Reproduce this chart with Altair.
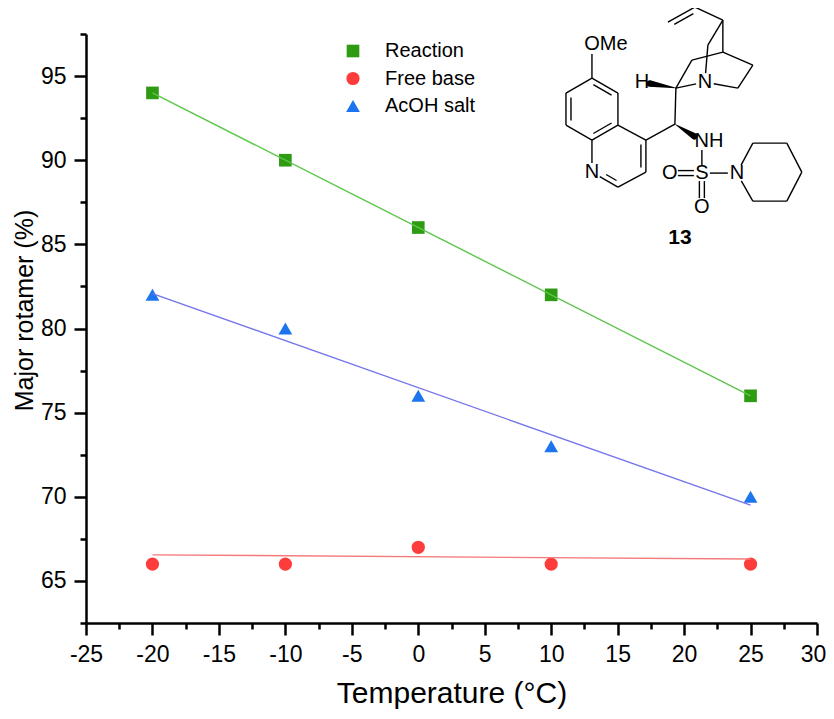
import altair as alt
import pandas as pd

# ---------------- data ----------------
series = ["Reaction", "Free base", "AcOH salt"]
temps = [-20, -10, 0, 10, 25]
reaction = [94, 90, 86, 82, 76]
free_base = [66, 66, 67, 66, 66]
acoh_salt = [82, 80, 76, 73, 70]

# linear fit lines (end points)
fit_temps = [-20, 25]
fit_reaction = [94.0, 76.0]
fit_free_base = [66.55, 66.3]
fit_acoh_salt = [82.07, 69.5]

x_ticks = [-25, -22.5, -20, -17.5, -15, -12.5, -10, -7.5, -5, -2.5, 0, 2.5, 5,
           7.5, 10, 12.5, 15, 17.5, 20, 22.5, 25, 27.5, 30]
y_ticks = [62.5, 65, 67.5, 70, 72.5, 75, 77.5, 80, 82.5, 85, 87.5, 90, 92.5, 95, 97.5]

# ---------------- styles ----------------
point_colors = ["#2E9B12", "#FF3C3C", "#1C74EE"]
line_colors = ["#5CC64A", "#F47A7A", "#7474EC"]
shapes = ["square", "circle", "triangle-up"]
sizes = [160, 190, 230]
FONT = "Liberation Sans"

values = [reaction, free_base, acoh_salt]
pts = pd.DataFrame([
    {"series": s, "temp": t, "value": v}
    for s, vals in zip(series, values) for t, v in zip(temps, vals)
])
fits = pd.DataFrame([
    {"series": s, "temp": t, "value": v}
    for s, vals in zip(series, [fit_reaction, fit_free_base, fit_acoh_salt])
    for t, v in zip(fit_temps, vals)
])

# ---------------- molecule 13 (2D drawing coordinates) ----------------
atoms = {
    "C6": (592, 78), "C5": (618, 93), "C4a": (618, 125), "C8a": (592, 140),
    "C8": (566, 125), "C7": (566, 93), "C4": (646, 140), "C3": (646, 172),
    "C2": (618, 187), "N1": (592, 172), "OM": (592, 44),
    "C9": (675, 124), "C8q": (676, 88), "Hq": (642, 82), "Nq": (705, 82),
    "C7q": (692, 60), "C2q": (708, 45), "C3q": (723, 20), "C4q": (723, 52),
    "C5q": (753, 65), "C6q": (738, 88), "C10": (695, 7), "C11": (668, 22),
    "NH": (702, 141), "S": (702, 173), "OL": (670, 173), "OB": (702, 207),
    "NP": (737, 173), "P2": (753, 143), "P3": (787, 143), "P4": (802, 172),
    "P5": (787, 201), "P6": (753, 201),
}
labelled = {"N1": 9, "OM": 10, "Hq": 8, "Nq": 9, "NH": 9, "S": 8, "OL": 8,
            "OB": 9, "NP": 9}
single_bonds = [
    ("C6", "C5"), ("C5", "C4a"), ("C4a", "C8a"), ("C8a", "C8"), ("C8", "C7"),
    ("C7", "C6"), ("C4a", "C4"), ("C4", "C3"), ("C3", "C2"), ("C2", "N1"),
    ("N1", "C8a"), ("C6", "OM"), ("C4", "C9"), ("C9", "C8q"), ("C8q", "Nq"),
    ("C8q", "C7q"), ("C7q", "C4q"), ("C2q", "Nq"), ("C2q", "C3q"),
    ("C3q", "C4q"), ("C4q", "C5q"), ("C5q", "C6q"), ("C6q", "Nq"),
    ("C3q", "C10"), ("C10", "C11"), ("NH", "S"), ("S", "NP"),
    ("NP", "P2"), ("P2", "P3"), ("P3", "P4"), ("P4", "P5"), ("P5", "P6"),
    ("P6", "NP"),
]
inner_doubles = [  # (a, b, ring centre side)
    ("C7", "C8", (592, 109)), ("C5", "C6", (592, 109)), ("C4a", "C8a", (592, 109)),
    ("C3", "C4", (619, 156)), ("N1", "C2", (619, 156)), ("C10", "C11", (690, 30)),
]
sym_doubles = [("S", "OL"), ("S", "OB")]
wedges = [("C9", "NH"), ("C8q", "Hq")]
atom_labels = [("OMe", 606, 44), ("N", 592, 172), ("H", 642, 82), ("N", 705, 82),
               ("NH", 709, 141), ("S", 702, 173), ("O", 670, 173),
               ("O", 702, 207), ("N", 737, 173)]
compound_label = [("13", 680, 238)]

# page pixel -> data units of the chart axes
X0, PXX = 85.7, 13.3
Y0, PXY = 33.9, 16.83


def dx(px):
    return -25 + (px - X0) / PXX


def dy(py):
    return 97.5 - (py - Y0) / PXY


def shrink(a, b):
    (x1, y1), (x2, y2) = atoms[a], atoms[b]
    L = ((x2 - x1) ** 2 + (y2 - y1) ** 2) ** 0.5
    ux, uy = (x2 - x1) / L, (y2 - y1) / L
    s1, s2 = labelled.get(a, 0), labelled.get(b, 0)
    return (x1 + ux * s1, y1 + uy * s1, x2 - ux * s2, y2 - uy * s2, ux, uy, L)


segs = []
for a, b in single_bonds:
    x1, y1, x2, y2, *_ = shrink(a, b)
    segs.append((x1, y1, x2, y2))
for a, b, c in inner_doubles:
    x1, y1, x2, y2, ux, uy, L = shrink(a, b)
    nx, ny = -uy, ux
    mx, my = (x1 + x2) / 2, (y1 + y2) / 2
    if (c[0] - mx) * nx + (c[1] - my) * ny < 0:
        nx, ny = -nx, -ny
    off, cut = 5, 4.5
    segs.append((x1 + ux * cut + nx * off, y1 + uy * cut + ny * off,
                 x2 - ux * cut + nx * off, y2 - uy * cut + ny * off))
for a, b in sym_doubles:
    x1, y1, x2, y2, ux, uy, L = shrink(a, b)
    nx, ny = -uy, ux
    for k in (-2.5, 2.5):
        segs.append((x1 + nx * k, y1 + ny * k, x2 + nx * k, y2 + ny * k))
bonds = pd.DataFrame([{"x": dx(a), "y": dy(b), "x2": dx(c), "y2": dy(d)}
                      for a, b, c, d in segs])

wrows = []
for i, (a, b) in enumerate(wedges):
    x1, y1, x2, y2, *_ = shrink(a, b)
    wrows.append({"w": i, "o": 0, "x": dx(x1), "y": dy(y1), "size": 0.5})
    wrows.append({"w": i, "o": 1, "x": dx(x2), "y": dy(y2), "size": 6.5})
wedge_df = pd.DataFrame(wrows)
lab_df = pd.DataFrame([{"t": t, "x": dx(x), "y": dy(y)} for t, x, y in atom_labels])
cmp_df = pd.DataFrame([{"t": t, "x": dx(x), "y": dy(y)} for t, x, y in compound_label])

# ---------------- chart ----------------
xscale = alt.Scale(domain=[-25, 30], nice=False, zero=False)
yscale = alt.Scale(domain=[62.5, 97.5], nice=False, zero=False)

TICK_SIZE = {"condition": {"test": "datum.value % 5 === 0", "value": 12}, "value": 6}
LABEL_EXPR = "datum.value % 5 === 0 ? '' + datum.value : ''"

common = dict(
    grid=False, tickSize=TICK_SIZE, labelExpr=LABEL_EXPR, labelFont=FONT,
    labelFontSize=23, labelColor="black", labelPadding=8, titleFont=FONT,
    titleFontWeight="normal", titleColor="black", domainColor="black",
    domainWidth=2.5, tickColor="black", tickWidth=2.5, labelFlush=False,
    labelOverlap=False,
)
x_axis = alt.Axis(values=x_ticks, title="Temperature (°C)", titleFontSize=30,
                  titlePadding=12,
                  labelOffset={"condition": {"test": "datum.value === 30",
                                             "value": -4}, "value": 0},
                  **common)
y_axis = alt.Axis(values=y_ticks, title="Major rotamer (%)", titleFontSize=25,
                  titleX=-49, titleY=276, **common)


def X(field):
    return alt.X(field, scale=xscale, axis=x_axis)


def Y(field):
    return alt.Y(field, scale=yscale, axis=y_axis)


point_layer = alt.Chart(pts).mark_point(filled=True, opacity=1).encode(
    x=X("temp:Q"),
    y=Y("value:Q"),
    color=alt.Color("series:N", scale=alt.Scale(domain=series, range=point_colors),
                    legend=alt.Legend(title=None, orient="none", legendX=257,
                                      legendY=7, labelFont=FONT, labelFontSize=20,
                                      labelColor="black", symbolSize=170,
                                      labelOffset=22, rowPadding=7.5, padding=0)),
    shape=alt.Shape("series:N", scale=alt.Scale(domain=series, range=shapes)),
    size=alt.Size("series:N", scale=alt.Scale(domain=series, range=sizes), legend=None),
)

fit_layers = [
    alt.Chart(fits).transform_filter(alt.datum.series == s)
    .mark_line(strokeWidth=1.4, color=c)
    .encode(x=X("temp:Q"), y=Y("value:Q"))
    for s, c in zip(series, line_colors)
]

bond_layer = alt.Chart(bonds).mark_rule(color="black", strokeWidth=1.4).encode(
    x=X("x:Q"), y=Y("y:Q"), x2="x2:Q", y2="y2:Q",
)
wedge_layer = alt.Chart(wedge_df).mark_trail(color="black").encode(
    x=X("x:Q"), y=Y("y:Q"),
    size=alt.Size("size:Q", scale=None), detail="w:N", order="o:Q",
)
label_layer = alt.Chart(lab_df).mark_text(
    font=FONT, fontSize=20, color="black", align="center", baseline="middle"
).encode(x=X("x:Q"), y=Y("y:Q"), text="t:N")
cmp_layer = alt.Chart(cmp_df).mark_text(
    font=FONT, fontSize=21, fontWeight="bold", color="black", align="center",
    baseline="middle"
).encode(x=X("x:Q"), y=Y("y:Q"), text="t:N")

chart = alt.layer(
    point_layer, *fit_layers, bond_layer, wedge_layer, label_layer, cmp_layer
).properties(
    width=731, height=589,
    autosize=alt.AutoSizeParams(type="none"),
    padding={"left": 78, "top": 26, "right": 9, "bottom": 88},
    background="white",
).configure_view(strokeWidth=0)

chart.save("out.html", embed_options={"renderer": "svg", "actions": False})
